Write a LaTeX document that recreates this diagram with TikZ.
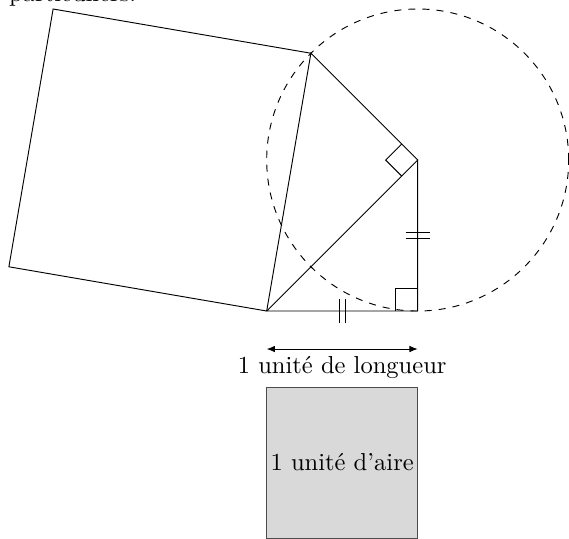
\documentclass[tikz,border=0pt]{standalone}
\usetikzlibrary{arrows.meta,calc}
\begin{document}
\begin{tikzpicture}[x=2.26cm,y=2.26cm,
  geo/.style={line width=0.4pt},
  dashcircle/.style={dashed,line width=0.4pt},
  unitsq/.style={fill=black!15,draw=black!70,line width=0.4pt},
  tick/.style={line width=0.5pt},
  lbl/.style={font=\fontsize{10.45pt}{12.5pt}\selectfont}]
\useasboundingbox (-1.766,-1.5033) rectangle (2.002,2.0596);
\clip (-1.766,-1.5033) rectangle (2.002,2.0596);
% points
\coordinate (A) at (0,0);
\coordinate (B) at (1,0);
\coordinate (C) at (1,1);
\coordinate (D) at (0.29289,1.70711);
\coordinate (E) at (-1.41421,2);
\coordinate (F) at (-1.70711,0.29289);
% fragment of text above
\node[lbl,anchor=base west,inner sep=0pt] (txt) at (-1.708,2.052) {particuliers.};
% big square on AD
\draw[geo] (A) -- (F) -- (E) -- (D);
% triangles
\draw[geo] (A) -- (B) -- (C) -- cycle;
\draw[geo] (A) -- (D) -- (C);
% dashed circle centred at C through B and D
\draw[dashcircle] (C) circle[radius=1];
% right angle marks
\draw[geo] ($(B)+(-0.15,0)$) -- ($(B)+(-0.15,0.15)$) -- ($(B)+(0,0.15)$);
\draw[geo] ($(C)+(-0.10607,-0.10607)$) -- ($(C)+(-0.21213,0)$) -- ($(C)+(-0.10607,0.10607)$);
% equal-length ticks
\draw[tick] (0.48,-0.08) -- (0.48,0.08) (0.52,-0.08) -- (0.52,0.08);
\draw[tick] (0.92,0.48) -- (1.08,0.48) (0.92,0.52) -- (1.08,0.52);
% unit of length
\coordinate (L1) at (0,-0.2517);
\coordinate (L2) at (1,-0.2517);
\draw[{Latex[length=3.5pt,width=2.8pt]}-{Latex[length=3.5pt,width=2.8pt]},line width=0.4pt] (L1) -- (L2);
\node[lbl] (lenlabel) at (0.5,-0.377) {1 unité de longueur};
% unit of area
\draw[unitsq] (0,-0.503) rectangle (1,-1.503);
\node[lbl] (arealabel) at (0.5,-1.003) {1 unité d'aire};
\end{tikzpicture}
\end{document}
